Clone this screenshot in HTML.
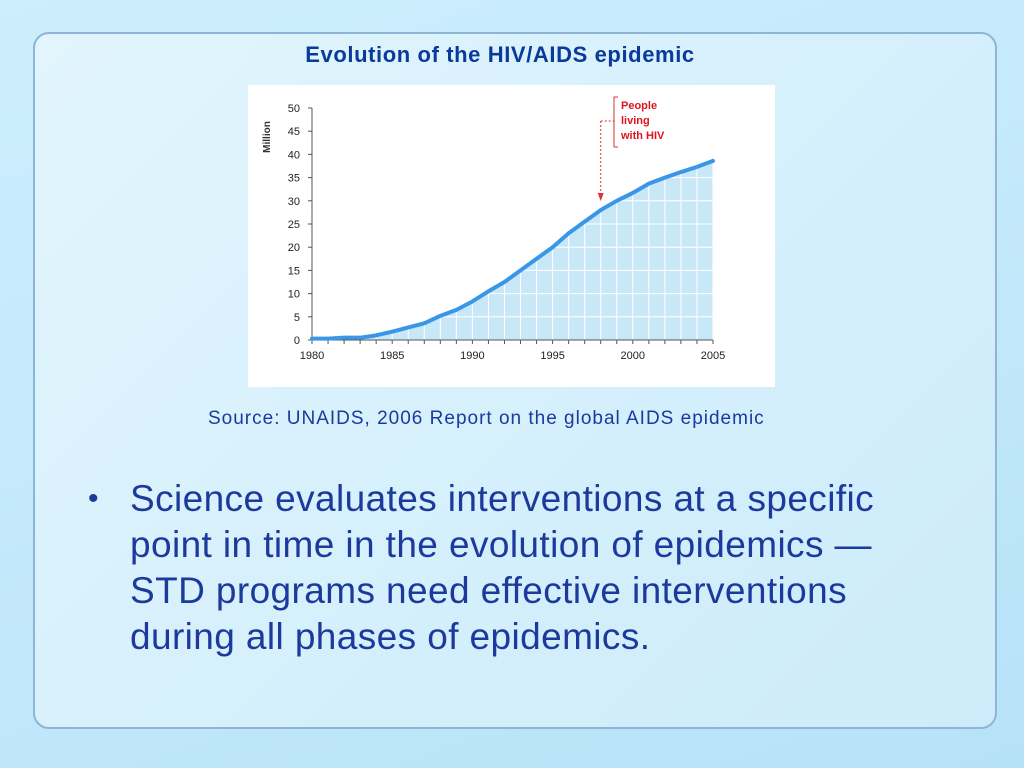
<!DOCTYPE html>
<html><head><meta charset="utf-8"><style>
html,body{margin:0;padding:0}
body{width:1024px;height:768px;position:relative;overflow:hidden;background:linear-gradient(160deg,#cdeefc 0%,#c4eafb 40%,#bfe6fa 70%,#b6e2f8 100%);font-family:"Liberation Sans",sans-serif}
.panel{position:absolute;left:33px;top:32px;width:960px;height:693px;border:2px solid #8db6d6;border-radius:16px;background:linear-gradient(135deg,#e2f5fd 0%,#d6f0fc 50%,#cdebfa 100%)}
.title{position:absolute;left:0;width:1000px;top:42px;text-align:center;font-weight:bold;font-size:22px;letter-spacing:0.6px;color:#0a3a9a}
.chartbox{position:absolute;left:248px;top:85px;width:527px;height:302px;background:#fff}
.source{position:absolute;left:208px;top:408px;font-size:19px;letter-spacing:1px;color:#1a3aa0;white-space:nowrap}
.bullet{position:absolute;left:88px;top:476px;font-size:37px;line-height:46px;color:#1b3a9c;width:900px;white-space:nowrap}
.bullet .dot{position:absolute;left:0;top:0;font-size:30px}
.bullet .txt{margin-left:42px;letter-spacing:0.4px}
</style></head><body>
<div class="panel"></div>
<div class="title">Evolution of the HIV/AIDS epidemic</div>
<div class="chartbox">
<svg id="chart" width="527" height="302" xmlns="http://www.w3.org/2000/svg"></svg>
</div>
<div class="source">Source: UNAIDS, 2006 Report on the global AIDS epidemic</div>
<div class="bullet"><span class="dot">•</span><div class="txt">Science evaluates interventions at a specific<br>point in time in the evolution of epidemics —<br>STD programs need effective interventions<br>during all phases of epidemics.</div></div>
<script>
const years=[1980,1981,1982,1983,1984,1985,1986,1987,1988,1989,1990,1991,1992,1993,1994,1995,1996,1997,1998,1999,2000,2001,2002,2003,2004,2005];
const values=[0.3,0.3,0.5,0.5,1,1.8,2.7,3.6,5.2,6.5,8.3,10.5,12.5,15,17.5,20,23,25.5,28,30,31.7,33.7,35,36.2,37.3,38.6];
const yTicks=[0,5,10,15,20,25,30,35,40,45,50];
const xTicks=[1980,1985,1990,1995,2000,2005];
const svg=document.getElementById('chart');
const NS='http://www.w3.org/2000/svg';
const x0=64,x1=465,y0=255,y1=23;
const xs=v=>x0+(v-1980)/(2005-1980)*(x1-x0);
const ys=v=>y0-v/50*(y0-y1);
function mk(t,a){const e=document.createElementNS(NS,t);for(const k in a)e.setAttribute(k,a[k]);svg.appendChild(e);return e;}
let d='M'+xs(years[0])+','+ys(0);
years.forEach((y,i)=>{d+=' L'+xs(y)+','+ys(values[i]);});
d+=' L'+xs(years[years.length-1])+','+ys(0)+' Z';
const area=mk('path',{d:d,fill:'#c8e8f8'});


const cp=document.createElementNS(NS,'clipPath');cp.setAttribute('id','cl');
const cpp=document.createElementNS(NS,'path');cpp.setAttribute('d',d);cp.appendChild(cpp);svg.appendChild(cp);
const g=mk('g',{'clip-path':'url(#cl)',stroke:'#fff','stroke-width':'1'});
years.forEach(y=>{const l=document.createElementNS(NS,'line');l.setAttribute('x1',xs(y));l.setAttribute('x2',xs(y));l.setAttribute('y1',ys(0));l.setAttribute('y2',ys(50));g.appendChild(l);});
yTicks.forEach(v=>{const l=document.createElementNS(NS,'line');l.setAttribute('x1',x0);l.setAttribute('x2',x1);l.setAttribute('y1',ys(v));l.setAttribute('y2',ys(v));g.appendChild(l);});
const ya=mk('line',{x1:x0,x2:x0,y1:ys(50),y2:ys(0),stroke:'#555','stroke-width':1});

const xa=mk('line',{x1:x0,x2:x1,y1:ys(0),y2:ys(0),stroke:'#555','stroke-width':1});

yTicks.forEach(v=>{
 mk('line',{x1:x0-4,x2:x0,y1:ys(v),y2:ys(v),stroke:'#555'});
 const t=mk('text',{x:x0-12,y:ys(v)+4,'text-anchor':'end','font-size':'11','font-family':'Liberation Sans, sans-serif',fill:'#222'});
 t.textContent=v;
 
});
years.forEach(y=>mk('line',{x1:xs(y),x2:xs(y),y1:ys(0),y2:ys(0)+4,stroke:'#555'}));
xTicks.forEach(y=>{
 const t=mk('text',{x:xs(y),y:ys(0)+19,'text-anchor':'middle','font-size':'11','font-family':'Liberation Sans, sans-serif',fill:'#222'});
 t.textContent=y;
 
});
const yt=mk('text',{x:0,y:0,transform:'translate(22,52) rotate(-90)','text-anchor':'middle','font-size':'10','font-weight':'bold','font-family':'Liberation Sans, sans-serif',fill:'#333'});
yt.textContent='Million';
let ld='';years.forEach((y,i)=>{ld+=(i?' L':'M')+xs(y)+','+ys(values[i]);});
const ln=mk('path',{d:ld,fill:'none',stroke:'#3a96e6','stroke-width':'4','stroke-linejoin':'round','stroke-linecap':'round'});

const ax=xs(1998);
mk('line',{x1:ax,x2:ax,y1:36,y2:112,stroke:'#d33','stroke-width':1,'stroke-dasharray':'2,2'});
mk('path',{d:`M${ax-3},${108} L${ax},${116} L${ax+3},${108} Z`,fill:'#d33'});
mk('line',{x1:ax,x2:367,y1:36,y2:36,stroke:'#d33','stroke-dasharray':'2,2'});
mk('path',{d:'M370,12 L366,12 L366,62 L370,62',fill:'none',stroke:'#d33'});
const an=mk('text',{x:373,y:24,'font-size':'11','font-weight':'bold','font-family':'Liberation Sans, sans-serif',fill:'#e0141e'});

['People','living','with HIV'].forEach((s,i)=>{const ts=document.createElementNS(NS,'tspan');ts.setAttribute('x',373);ts.setAttribute('dy',i?15:0);ts.textContent=s;an.appendChild(ts);});
</script>
</body></html>
